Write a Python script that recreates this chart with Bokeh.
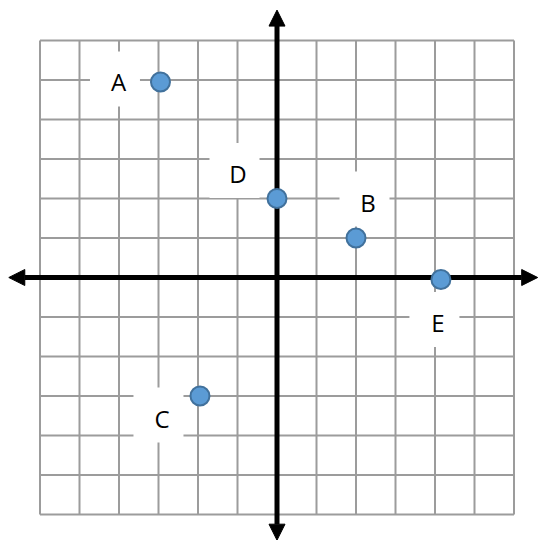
from bokeh.plotting import figure
from bokeh.models import Arrow, NormalHead, ColumnDataSource
from bokeh.core.properties import value
from bokeh.embed import file_html
from bokeh.resources import INLINE

# ---- data ----
labels = ["A", "B", "C", "D", "E"]
xs = [-2.95, 2.0, -1.95, 0.0, 4.15]
ys = [4.95, 1.0, -3.0, 2.0, -0.05]
grid_ticks = list(range(-6, 7))

# ---- layout / style constants ----
W = H = 540
PPU = 39.5                      # pixels per unit
X0 = -276.5 / PPU
X1 = X0 + W / PPU
Y1 = 277 / PPU
Y0 = Y1 - H / PPU
# label offsets from point, in screen pixels (dx right, dy down)
label_dx = [-42, 12, -38, -39, -3]
label_dy = [0, -36, 22, -25, 43]
box_shift = (-3.5, -3.0)

p = figure(width=W, height=H, x_range=(X0, X1), y_range=(Y0, Y1),
           output_backend="svg", toolbar_location=None,
           x_axis_location=None, y_axis_location=None, min_border=0)
p.grid.visible = False
p.outline_line_color = None
p.background_fill_color = "white"
p.border_fill_color = "white"

gmin, gmax = grid_ticks[0], grid_ticks[-1]
# vertical and horizontal grid lines
p.segment(x0=grid_ticks, y0=[gmin] * len(grid_ticks), x1=grid_ticks, y1=[gmax] * len(grid_ticks),
          line_color="#9c9c9c", line_width=2)
p.segment(x0=[gmin] * len(grid_ticks), y0=grid_ticks, x1=[gmax] * len(grid_ticks), y1=grid_ticks,
          line_color="#9c9c9c", line_width=2)

lx = [x + dx / PPU for x, dx in zip(xs, label_dx)]
ly = [y - dy / PPU for y, dy in zip(ys, label_dy)]
bx = [x + box_shift[0] / PPU for x in lx]
by = [y - box_shift[1] / PPU for y in ly]

p.rect(x=bx, y=by, width=50, height=55, width_units="screen", height_units="screen",
       fill_color="white", line_color=None)

head = dict(size=16, fill_color="black", line_color="black", line_width=1)
p.add_layout(Arrow(start=NormalHead(**head), end=NormalHead(**head),
                   x_start=-6.79, y_start=0, x_end=6.6, y_end=0,
                   line_width=5, line_color="black"))
p.add_layout(Arrow(start=NormalHead(**head), end=NormalHead(**head),
                   x_start=0, y_start=-6.65, x_end=0, y_end=6.77,
                   line_width=5, line_color="black"))

src = ColumnDataSource(dict(x=xs, y=ys))
pts = p.scatter(x="x", y="y", source=src, size=19, fill_color="#5b9bd5",
                line_color="#41719c", line_width=2)
pts.level = "overlay"

tsrc = ColumnDataSource(dict(x=lx, y=ly, t=labels))
txt = p.text(x="x", y="y", text="t", source=tsrc, text_font=value("Open Sans"),
             text_font_size="24px", text_color="black", text_align="center",
             text_baseline="middle")
txt.level = "overlay"

open("out.html", "w").write(file_html(p, INLINE))
